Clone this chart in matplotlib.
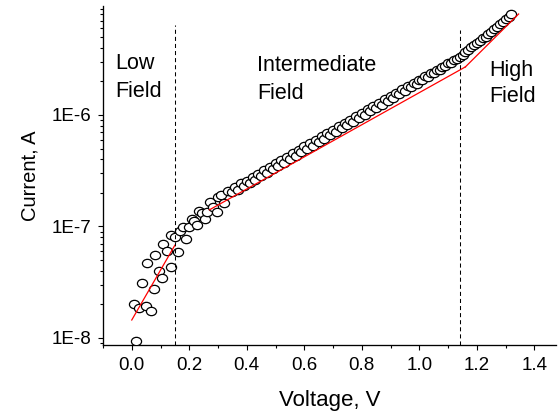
import numpy as np
import matplotlib
matplotlib.use('Agg')
import matplotlib.pyplot as plt
from matplotlib.path import Path
from matplotlib.ticker import LogLocator, FuncFormatter, NullFormatter, MultipleLocator

plt.rcParams['font.family'] = ['Liberation Sans', 'DejaVu Sans']

# ========== Datos ==========

# Zona de bajo campo (V, nA), puntos dispersos
v_low = [0.007, 0.016, 0.025, 0.034, 0.048, 0.053, 0.066, 0.077, 0.082, 0.093,
         0.104, 0.110, 0.122, 0.135, 0.138, 0.151, 0.161, 0.169, 0.178, 0.189,
         0.198, 0.208, 0.217, 0.228, 0.233, 0.245, 0.256, 0.263, 0.272, 0.284,
         0.295, 0.300, 0.310, 0.321, 0.335, 0.347]
i_low_na = [20.0, 9.4, 18.6, 31.0, 19.5, 47.0, 17.6, 27.3, 56.0, 40.0,
            34.5, 70.0, 60.0, 43.5, 84.5, 80.0, 59.4, 90.6, 99.6, 78.0,
            99.0, 117, 112, 104, 139, 133, 117, 135, 165, 151,
            136, 184, 190, 164, 210, 203]

# Barrido de 0.36 a 1.32 V en pasos de 10 mV (nA)
v_sweep = np.round(np.arange(0.36, 1.3201, 0.01), 2)
i_sweep_na = [226, 214, 243, 230, 258, 247, 280, 263, 298, 284,
              322, 303, 343, 327, 368, 350, 395, 374, 424, 403,
              454, 431, 487, 463, 522, 497, 560, 532, 600, 571,
              643, 613, 690, 657, 740, 705, 792, 757, 850, 812,
              910, 871, 976, 935, 1046, 1003, 1122, 1077, 1202, 1156,
              1288, 1241, 1380, 1333, 1478, 1432, 1583, 1538, 1695, 1652,
              1814, 1776, 1941, 1910, 2077, 2055, 2222, 2210, 2378, 2378,
              2545, 2555, 2722, 2748, 2912, 2955, 3118, 3175, 3330,
              3480, 3700, 3830, 4060, 4210, 4450, 4600, 4860, 5040, 5330,
              5520, 5850, 6100, 6500, 6800, 7250, 7600, 8100]

voltage = np.concatenate([v_low, v_sweep])
current = np.concatenate([i_low_na, i_sweep_na]) * 1e-9

# Ajustes lineales (en escala log) por zona
fit_low_v, fit_low_i = [0.0, 0.15], [1.45e-8, 6.8e-8]
fit_mid_v, fit_mid_i = [0.27, 1.16], [1.41e-7, 2.7e-6]
fit_high_v, fit_high_i = [1.16, 1.345], [2.7e-6, 8.05e-6]

# Limites entre zonas
boundaries = [0.15, 1.14]
boundary_tops = [6.4e-6, 5.8e-6]

# Etiquetas de zona: texto, x, y de cada linea
zone_lines = [("Low", "Field"), ("Intermediate", "Field"), ("High", "Field")]
zone_x = [-0.056, 0.435, 1.242]
zone_y = [(2.59e-6, 1.45e-6), (2.48e-6, 1.39e-6), (2.24e-6, 1.31e-6)]

x_lim = (-0.1, 1.475)
y_lim = (8.74e-9, 9.4e-6)

# ========== Grafico ==========
fig = plt.figure(figsize=(5.58, 4.11), dpi=100)
ax = fig.add_axes([0.1846, 0.1618, 0.8118, 0.8224])

circ = Path.unit_circle()
oval = Path(circ.vertices * [1.0, 0.82], circ.codes)

ax.plot(voltage, current, linestyle='none', marker=oval, markersize=7.3,
        markerfacecolor='white', markeredgecolor='black', markeredgewidth=0.9,
        zorder=3)

for fv, fi in [(fit_low_v, fit_low_i), (fit_mid_v, fit_mid_i), (fit_high_v, fit_high_i)]:
    ax.plot(fv, fi, color='red', lw=0.9, zorder=4)

ax.vlines(boundaries, y_lim[0], boundary_tops, colors='black', lw=0.75,
          linestyles=[(0, (3.9, 2.9))], zorder=5)

for lines, x, ys in zip(zone_lines, zone_x, zone_y):
    for txt, y in zip(lines, ys):
        ax.text(x, y, txt, fontsize=15.5, ha='left', va='baseline')

ax.set_yscale('log')
ax.set_xlim(*x_lim)
ax.set_ylim(*y_lim)

ax.xaxis.set_major_locator(MultipleLocator(0.2))
ax.xaxis.set_minor_locator(MultipleLocator(0.1))
ax.xaxis.set_major_formatter(FuncFormatter(lambda v, p: '%.1f' % v))

ax.yaxis.set_major_locator(LogLocator(base=10))
ax.yaxis.set_minor_locator(LogLocator(base=10, subs=np.arange(2, 10)))
ax.yaxis.set_major_formatter(FuncFormatter(lambda v, p: '1E%d' % round(np.log10(v))))
ax.yaxis.set_minor_formatter(NullFormatter())

for s in ['top', 'right']:
    ax.spines[s].set_visible(False)
for s in ['left', 'bottom']:
    ax.spines[s].set_linewidth(0.95)

ax.tick_params(which='major', length=3.8, width=0.8, labelsize=13.5, color='black')
ax.tick_params(which='minor', length=2.3, width=0.8)
ax.tick_params(axis='x', which='major', pad=5.5)
ax.tick_params(axis='y', which='major', pad=4.5)

ax.set_xlabel('Voltage, V', fontsize=16, labelpad=11)
ax.set_ylabel('Current, A', fontsize=14.5, labelpad=9)

fig.savefig('out.png', dpi=100)
